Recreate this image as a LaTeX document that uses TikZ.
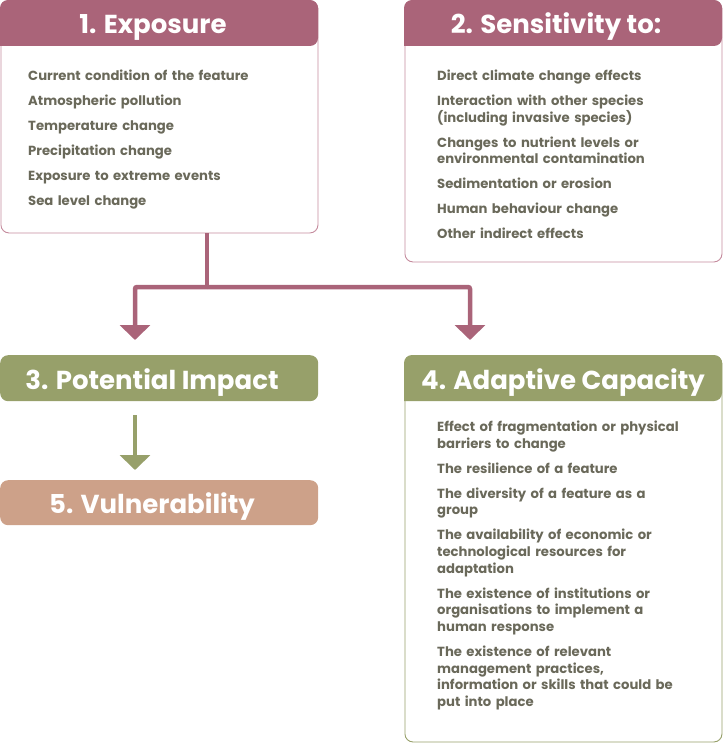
\documentclass[tikz,border=0pt]{standalone}
\usepackage{fontspec}
\setmainfont{Poppins}
\usetikzlibrary{arrows.meta}
\definecolor{rose}{HTML}{AA6479}
\definecolor{roseline}{HTML}{C58C9E}
\definecolor{olive}{HTML}{97A06A}
\definecolor{tan}{HTML}{CDA189}
\definecolor{txt}{HTML}{6A695A}
\tikzset{
  frame/.style={draw=#1, line width=0.9pt, rounded corners=8pt, fill=white, inner sep=0pt, anchor=north west},
  headtxt/.style={text=white, font=\bfseries\fontsize{26}{30}\selectfont, anchor=base, inner sep=0pt},
  body/.style={text=txt, font=\bfseries\fontsize{13.2}{16.7}\selectfont, anchor=north west, align=left, inner sep=0pt},
  link/.style={line width=4.5pt, -{Triangle[width=30pt,length=15pt]}},
  solid box/.style={fill=#1, rounded corners=8pt, minimum width=318pt, inner sep=0pt, anchor=north west},
}
\begin{document}
\begin{tikzpicture}[x=1pt,y=-1pt]
\useasboundingbox (0,0) rectangle (723,743);
% Box 1
\node[frame=roseline, minimum width=317pt, minimum height=232pt] (b1) at (0.5,0.5) {};
\fill[rose, rounded corners=8pt] (0,46) -- (0,0) -- (318,0) -- (318,46) [sharp corners] -- cycle;
\node[headtxt] (h1) at (153,34) {1. Exposure};
\node[body, text width=285pt] (t1) at (28,70) {Current condition of the feature\\[8.3pt]
Atmospheric pollution\\[8.3pt]
Temperature change\\[8.3pt]
Precipitation change\\[8.3pt]
Exposure to extreme events\\[8.3pt]
Sea level change};
% Box 2
\node[frame=roseline, minimum width=317pt, minimum height=261pt] (b2) at (404.5,0.5) {};
\fill[rose, rounded corners=8pt] (404,46) -- (404,0) -- (722,0) -- (722,46) [sharp corners] -- cycle;
\node[headtxt] (h2) at (556,34) {2. Sensitivity to:};
\node[body, text width=285pt] (t2) at (437,70) {Direct climate change effects\\[8.1pt]
Interaction with other species\\(including invasive species)\\[8.1pt]
Changes to nutrient levels or\\environmental contamination\\[8.1pt]
Sedimentation or erosion\\[8.1pt]
Human behaviour change\\[8.1pt]
Other indirect effects};
% Box 3
\node[solid box=olive, minimum height=46pt] (b3) at (0,355) {};
\node[headtxt] (h3) at (152,389) {3. Potential Impact};
% Box 5
\node[solid box=tan, minimum height=45pt] (b5) at (0,480) {};
\node[headtxt] (h5) at (152,513) {5. Vulnerability};
% Box 4
\node[frame=olive, minimum width=317pt, minimum height=386pt] (b4) at (404.5,355.5) {};
\fill[olive, rounded corners=8pt] (404,401) -- (404,355) -- (722,355) -- (722,401) [sharp corners] -- cycle;
\node[headtxt] (h4) at (563,389) {4. Adaptive Capacity};
\node[body, text width=285pt] (t4) at (437,421) {Effect of fragmentation or physical\\barriers to change\\[8.2pt]
The resilience of a feature\\[8.2pt]
The diversity of a feature as a\\group\\[8.2pt]
The availability of economic or\\technological resources for\\adaptation\\[8.2pt]
The existence of institutions or\\organisations to implement a\\human response\\[8.2pt]
The existence of relevant\\management practices,\\information or skills that could be\\put into place};
% connectors
\coordinate (j) at (207,287);
\coordinate (a3) at (135,340);
\coordinate (a4) at (470,340);
\draw[rose, line width=4.5pt] (b1.south -| j) -- (j);
\draw[rose, link, rounded corners=2pt] (j) -| (a3);
\draw[rose, link, rounded corners=2pt] (j) -| (a4);
\coordinate (g1) at ([yshift=-14pt]b3.south -| a3);
\coordinate (g2) at ([yshift=10pt]b5.north -| a3);
\draw[olive, link] (g1) -- (g2);
\end{tikzpicture}
\end{document}
